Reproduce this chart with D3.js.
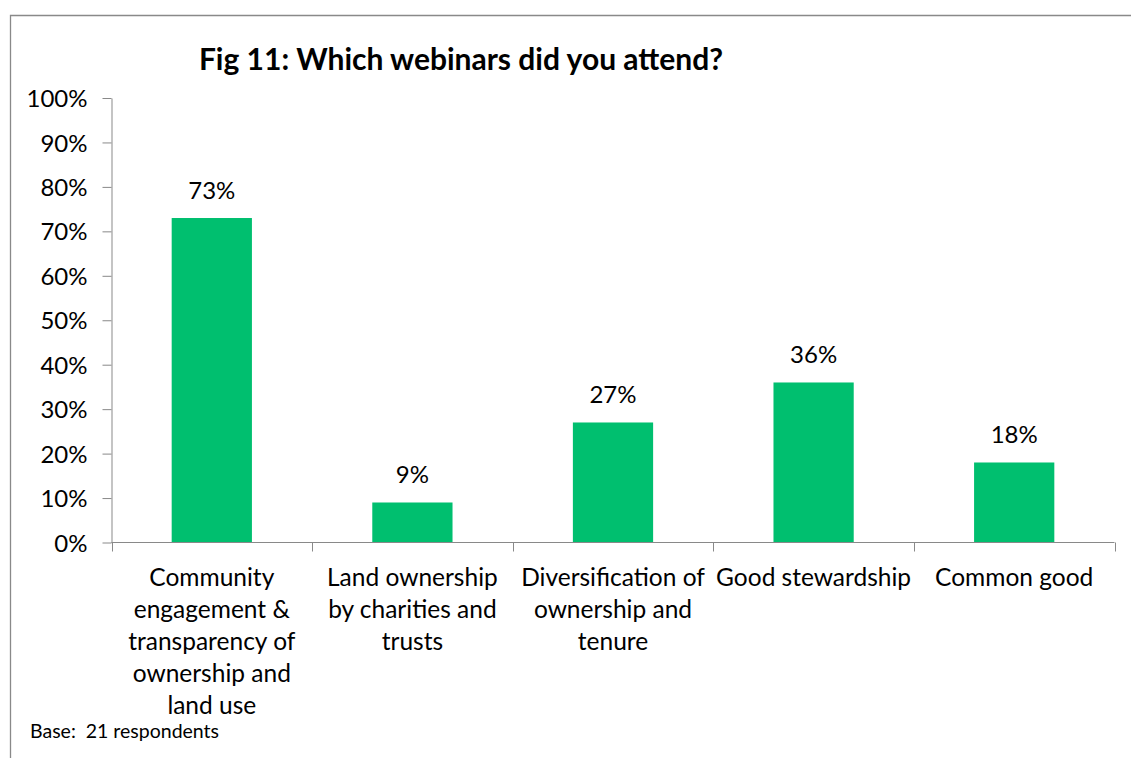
<!DOCTYPE html>
<html>
<head>
<meta charset="utf-8">
<script src="https://cdn.jsdelivr.net/npm/d3@7"></script>
<style>
  html, body { margin: 0; padding: 0; background: #fff; }
  svg { display: block; font-family: Lato, "Open Sans", sans-serif; }
</style>
</head>
<body>
<svg id="chart" width="1131" height="758"></svg>
<script>
// Survey results: share of respondents attending each webinar
const categories = [
  "Community engagement & transparency of ownership and land use",
  "Land ownership by charities and trusts",
  "Diversification of ownership and tenure",
  "Good stewardship",
  "Common good"
];
const categoryLines = [
  ["Community", "engagement &", "transparency of", "ownership and", "land use"],
  ["Land ownership", "by charities and", "trusts"],
  ["Diversification of", "ownership and", "tenure"],
  ["Good stewardship"],
  ["Common good"]
];
const values = [0.73, 0.09, 0.27, 0.36, 0.18];
const yTicks = [0, 0.1, 0.2, 0.3, 0.4, 0.5, 0.6, 0.7, 0.8, 0.9, 1.0];
const titleText = "Fig 11: Which webinars did you attend?";
const baseText = "Base:  21 respondents";

const svg = d3.select("#chart");
const axisColor = "#898989";
const barColor = "#00BF6F";

// Outer frame (top and left edges)
svg.append("path")
  .attr("d", "M10.5,758 V15.5 H1131")
  .attr("fill", "none")
  .attr("stroke", axisColor)
  .attr("stroke-width", 1.3);

const plot = { left: 111.5, right: 1114.5, top: 98, bottom: 542.5 };

const x = d3.scaleBand()
  .domain(categories)
  .range([plot.left, plot.right])
  .paddingInner(0.6)
  .paddingOuter(0.3);

const y = d3.scaleLinear()
  .domain([0, 1])
  .range([plot.bottom, plot.top]);

// Title
svg.append("text")
  .attr("x", 461)
  .attr("y", 70)
  .attr("text-anchor", "middle")
  .attr("font-size", 30)
  .attr("font-weight", "bold")
  .attr("fill", "#000")
  .text(titleText);

// Y axis
const yAxis = svg.append("g")
  .attr("transform", `translate(${plot.left},0)`)
  .call(d3.axisLeft(y)
    .tickValues(yTicks)
    .tickFormat(d3.format(".0%"))
    .tickSize(9)
    .tickSizeOuter(0)
    .tickPadding(15));
yAxis.select(".domain").attr("stroke", axisColor);
yAxis.selectAll(".tick line").attr("stroke", axisColor);
yAxis.selectAll(".tick text")
  .attr("font-size", 24)
  .attr("font-family", "Lato, 'Open Sans', sans-serif")
  .attr("fill", "#000")
  .attr("dy", "0.36em");

// Bars
svg.append("g")
  .selectAll("rect")
  .data(values)
  .join("rect")
  .attr("x", (d, i) => x(categories[i]))
  .attr("width", x.bandwidth())
  .attr("y", d => y(d))
  .attr("height", d => y(0) - y(d))
  .attr("fill", barColor);

// X axis baseline and category separators
const boundaries = d3.range(categories.length + 1).map(i => plot.left + i * x.step());
const xAxis = svg.append("g");
xAxis.append("line")
  .attr("x1", plot.left).attr("x2", plot.right)
  .attr("y1", plot.bottom).attr("y2", plot.bottom)
  .attr("stroke", axisColor);
xAxis.selectAll("line.sep")
  .data(boundaries)
  .join("line")
  .attr("class", "sep")
  .attr("x1", d => Math.round(d) + 0.5).attr("x2", d => Math.round(d) + 0.5)
  .attr("y1", plot.bottom).attr("y2", plot.bottom + 9)
  .attr("stroke", axisColor);

// Category labels (wrapped)
const catLabels = svg.append("g")
  .selectAll("text")
  .data(categories)
  .join("text")
  .attr("x", d => x(d) + x.bandwidth() / 2)
  .attr("y", 586)
  .attr("text-anchor", "middle")
  .attr("font-size", 24.5)
  .attr("fill", "#000");
catLabels.each(function(d, i) {
  d3.select(this).selectAll("tspan")
    .data(categoryLines[i])
    .join("tspan")
    .attr("x", x(d) + x.bandwidth() / 2)
    .attr("dy", (t, j) => j === 0 ? 0 : 32)
    .text(t => t);
});

// Value labels
svg.append("g")
  .selectAll("text")
  .data(values)
  .join("text")
  .attr("x", (d, i) => x(categories[i]) + x.bandwidth() / 2)
  .attr("y", d => y(d) - 19)
  .attr("text-anchor", "middle")
  .attr("font-size", 24)
  .attr("fill", "#000")
  .text(d => d3.format(".0%")(d));

// Base note
svg.append("text")
  .attr("x", 30)
  .attr("y", 738)
  .attr("font-size", 19.5)
  .attr("fill", "#000")
  .style("white-space", "pre")
  .text(baseText);
</script>
</body>
</html>
